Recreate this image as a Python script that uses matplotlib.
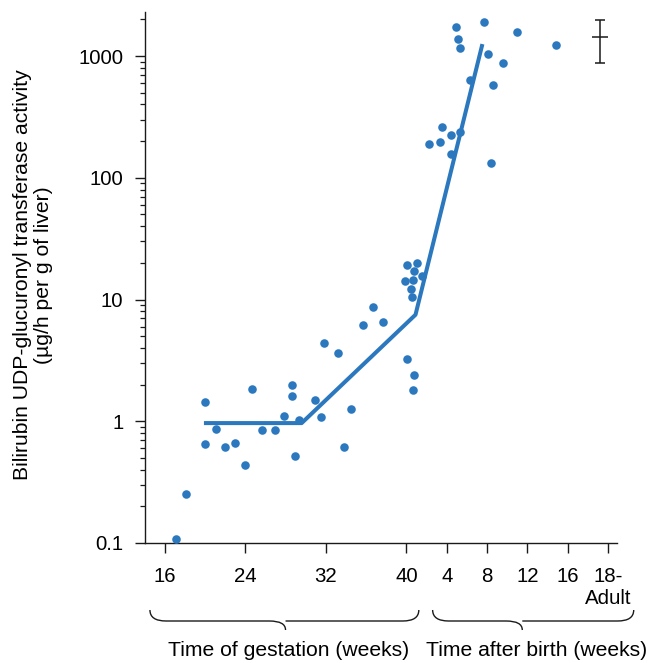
import matplotlib
matplotlib.use('Agg')
import matplotlib.pyplot as plt
from matplotlib.path import Path
from matplotlib.patches import PathPatch
from matplotlib import transforms
from matplotlib.ticker import FixedLocator, FixedFormatter, LogLocator, NullFormatter

plt.rcParams['font.family'] = ['Liberation Sans', 'DejaVu Sans']

# ---- data ----
gest_weeks = [17.12, 18.08, 20.0, 19.97, 21.09, 21.95, 22.97, 24.0, 24.69, 25.62,
              26.94, 27.87, 28.6, 28.66, 28.93, 29.35, 30.91, 31.54, 31.77, 33.16,
              33.82, 34.48, 35.64, 36.66, 37.63, 40.1, 40.76, 40.66,
              40.1, 41.06, 40.8, 41.5, 39.9, 40.7, 40.5, 40.6]
gest_activity = [0.108, 0.255, 1.44, 0.65, 0.87, 0.62, 0.66, 0.44, 1.85, 0.84,
                 0.85, 1.11, 1.98, 1.62, 0.52, 1.03, 1.49, 1.08, 4.39, 3.65,
                 0.61, 1.26, 6.12, 8.72, 6.56, 3.22, 2.40, 1.82,
                 19.3, 19.9, 17.2, 15.7, 14.1, 14.5, 12.3, 10.5]

birth_weeks = [4.89, 7.67, 5.16, 5.29, 10.94, 14.84, 8.13, 9.55, 6.28, 8.56,
               3.57, 4.39, 5.29, 2.28, 3.37, 4.39, 8.36]
birth_activity = [1730, 1900, 1377, 1175, 1573, 1230, 1030, 880, 640, 573,
                  261, 226, 239, 190, 198, 158, 132]

# trend line (axis position in weeks from conception, activity)
trend_pos = [19.9, 29.6, 40.9, 47.54]
trend_activity = [0.966, 0.966, 7.5, 1254]

# adult mean with range
adult_pos = 59.2
adult_mean = 1420
adult_low = 870
adult_high = 1960

tick_pos = [16, 24, 32, 40, 44, 48, 52, 56, 60]
tick_labels = ['16', '24', '32', '40', '4', '8', '12', '16', '18-\nAdult']
ytick_vals = [0.1, 1, 10, 100, 1000]
ytick_labels = ['0.1', '1', '10', '100', '1000']

BIRTH = 40
BLUE = '#2b78be'
DARK = '#1a1a1a'

fig = plt.figure(figsize=(6.51, 6.63), dpi=100)
ax = fig.add_axes([145/651, 1-543/663, 472/651, 531/663])

ax.set_yscale('log')
ax.set_ylim(0.1, 2300)
ax.set_xlim(14.05, 60.9)

post_pos = [BIRTH + t for t in birth_weeks]
ax.scatter(gest_weeks, gest_activity, s=38, color=BLUE, linewidths=0, zorder=3, clip_on=False)
ax.scatter(post_pos, birth_activity, s=38, color=BLUE, linewidths=0, zorder=3, clip_on=False)
ax.plot(trend_pos, trend_activity, color=BLUE, lw=2.9, solid_capstyle='butt', zorder=2)

ax.errorbar([adult_pos], [adult_mean],
            yerr=[[adult_mean - adult_low], [adult_high - adult_mean]],
            fmt='_', color=DARK, ms=11, mew=1.1, elinewidth=1.1, capsize=3.5, capthick=1.1)

for s in ['top', 'right']:
    ax.spines[s].set_visible(False)
for s in ['left', 'bottom']:
    ax.spines[s].set_linewidth(1.0)
    ax.spines[s].set_color(DARK)

ax.xaxis.set_major_locator(FixedLocator(tick_pos))
ax.xaxis.set_major_formatter(FixedFormatter(tick_labels))
ax.yaxis.set_major_locator(FixedLocator(ytick_vals))
ax.yaxis.set_major_formatter(FixedFormatter(ytick_labels))
ax.yaxis.set_minor_locator(LogLocator(base=10, subs=[2, 3, 4, 5, 6, 7, 8, 9]))
ax.yaxis.set_minor_formatter(NullFormatter())

ax.tick_params(axis='both', which='major', direction='out', length=7.5, width=1.0,
               labelsize=14.7, color=DARK)
ax.tick_params(axis='x', which='major', pad=9.5)
ax.tick_params(axis='y', which='major', pad=8)
ax.tick_params(axis='y', which='minor', direction='out', length=3.7, width=0.9, color=DARK)

# y label
fig.text(33/651, 1-275/663,
         'Bilirubin UDP-glucuronyl transferase activity\n(µg/h per g of liver)',
         rotation=90, ha='center', va='center', multialignment='center',
         fontsize=15.2, linespacing=1.12)

# braces below the axis
trans = transforms.blended_transform_factory(ax.transData, ax.transAxes)

def brace(x0, x1, xm, y_top, y_mid, y_tip, r):
    verts = [(x0, y_top), (x0, y_mid), (x0 + r, y_mid),
             (xm - r, y_mid),
             (xm, y_mid), (xm, y_tip),
             (xm, y_mid), (xm + r, y_mid),
             (x1 - r, y_mid),
             (x1, y_mid), (x1, y_top)]
    codes = [Path.MOVETO, Path.CURVE3, Path.CURVE3,
             Path.LINETO,
             Path.CURVE3, Path.CURVE3,
             Path.MOVETO, Path.CURVE3,
             Path.LINETO,
             Path.CURVE3, Path.CURVE3]
    p = PathPatch(Path(verts, codes), transform=trans, fill=False,
                  lw=1.0, edgecolor=DARK, clip_on=False)
    ax.add_patch(p)

def ay(py):
    return (543 - py) / 531

brace(14.54, 41.23, 28.0, ay(610), ay(621), ay(630), 1.6)
brace(42.6, 62.56, 51.5, ay(610), ay(621), ay(630), 1.6)

fig.text(289/651, 1-650/663, 'Time of gestation (weeks)', ha='center', va='center', fontsize=15.2)
fig.text(537/651, 1-650/663, 'Time after birth (weeks)', ha='center', va='center', fontsize=15.2)

fig.savefig('out.png', dpi=100)
